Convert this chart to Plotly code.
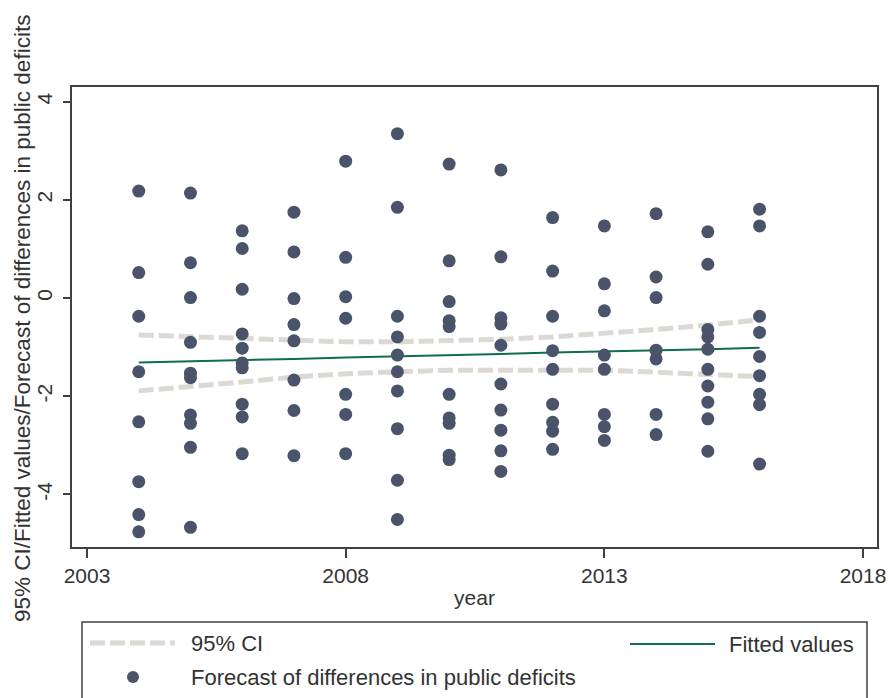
import plotly.graph_objects as go

# ---------------- data ----------------
years = [2004, 2005, 2006, 2007, 2008, 2009, 2010, 2011, 2012, 2013, 2014, 2015, 2016]

f2004 = [2.18, 0.52, -0.37, -1.50, -2.52, -3.74, -4.41, -4.76]
f2005 = [2.14, 0.72, 0.01, -0.90, -1.53, -1.62, -2.38, -2.55, -3.04, -4.67]
f2006 = [1.37, 1.01, 0.18, -0.73, -1.02, -1.32, -1.42, -2.16, -2.42, -3.17]
f2007 = [1.75, 0.94, -0.01, -0.54, -0.87, -1.67, -2.29, -3.21]
f2008 = [2.79, 0.83, 0.03, -0.41, -1.96, -2.37, -3.17]
f2009 = [3.35, 1.85, -0.37, -0.79, -1.16, -1.50, -1.89, -2.66, -3.71, -4.51]
f2010 = [2.73, 0.76, -0.07, -0.46, -0.58, -1.96, -2.44, -2.55, -3.20, -3.29]
f2011 = [2.61, 0.84, -0.40, -0.53, -0.96, -1.75, -2.28, -2.69, -3.11, -3.53]
f2012 = [1.64, 0.55, -0.37, -1.07, -1.45, -2.16, -2.53, -2.71, -3.08]
f2013 = [1.47, 0.29, -0.26, -1.16, -1.45, -2.37, -2.62, -2.90]
f2014 = [1.72, 0.43, 0.01, -1.06, -1.24, -2.37, -2.78]
f2015 = [1.35, 0.69, -0.64, -0.79, -1.04, -1.45, -1.79, -2.12, -2.46, -3.12]
f2016 = [1.81, 1.47, -0.37, -0.70, -1.19, -1.58, -1.96, -2.17, -3.38]

forecast_by_year = [f2004, f2005, f2006, f2007, f2008, f2009, f2010,
                    f2011, f2012, f2013, f2014, f2015, f2016]

fitted_values = [-1.31, -1.29, -1.26, -1.24, -1.21, -1.19, -1.16,
                 -1.14, -1.11, -1.09, -1.06, -1.04, -1.01]
ci_upper = [-0.75, -0.79, -0.82, -0.86, -0.89, -0.89, -0.87,
            -0.84, -0.79, -0.72, -0.64, -0.55, -0.44]
ci_lower = [-1.89, -1.81, -1.71, -1.61, -1.54, -1.50, -1.47,
            -1.47, -1.47, -1.47, -1.51, -1.55, -1.60]

x_ticks = [2003, 2008, 2013, 2018]
y_ticks = [-4, -2, 0, 2, 4]

# ---------------- styles ----------------
FONT = "Liberation Sans, Arial, sans-serif"
TXT = "#333333"
DOT = "#49546a"
GREEN = "#0f6e4d"
CIG = "#dcd8d4"
FRAME = "#404040"

W, H = 889, 698
L, R, T, B = 72, 12, 87, 151
PW, PH = W - L - R, H - T - B

def px(x):
    return (x - L) / PW

def py(y):
    return (H - B - y) / PH

xs, ys = [], []
for yr, vals in zip(years, forecast_by_year):
    xs += [yr] * len(vals)
    ys += vals

fig = go.Figure()
fig.add_trace(go.Scatter(x=years, y=ci_upper, mode="lines", name="95% CI",
                         line=dict(color=CIG, width=5, dash="15px,5px"),
                         showlegend=False))
fig.add_trace(go.Scatter(x=years, y=ci_lower, mode="lines", name="95% CI",
                         line=dict(color=CIG, width=5, dash="15px,5px"),
                         showlegend=False))
fig.add_trace(go.Scatter(x=years, y=fitted_values, mode="lines", name="Fitted values",
                         line=dict(color=GREEN, width=2), showlegend=False))
fig.add_trace(go.Scatter(x=xs, y=ys, mode="markers",
                         name="Forecast of differences in public deficits",
                         marker=dict(color=DOT, size=13, line=dict(width=0)),
                         showlegend=False))

# ---------------- manual legend (Stata-style box) ----------------
shapes = [
    dict(type="rect", xref="paper", yref="paper",
         x0=px(82), x1=px(867), y0=py(710), y1=py(622),
         line=dict(color=FRAME, width=1.5), fillcolor="white", layer="below"),
    dict(type="line", xref="paper", yref="paper",
         x0=px(90), x1=px(175), y0=py(643), y1=py(643),
         line=dict(color=CIG, width=5, dash="15px,5px")),
    dict(type="line", xref="paper", yref="paper",
         x0=px(630), x1=px(715), y0=py(644), y1=py(644),
         line=dict(color=GREEN, width=2)),
    dict(type="circle", xref="paper", yref="paper",
         x0=px(127), x1=px(139), y0=py(683), y1=py(671),
         fillcolor=DOT, line=dict(width=0)),
]
annotations = [
    dict(text="95% CI", xref="paper", yref="paper", x=px(189), y=py(643),
         xanchor="left", yanchor="middle", showarrow=False,
         font=dict(family=FONT, size=22, color=TXT)),
    dict(text="Fitted values", xref="paper", yref="paper", x=px(727), y=py(644),
         xanchor="left", yanchor="middle", showarrow=False,
         font=dict(family=FONT, size=22, color=TXT)),
    dict(text="Forecast of differences in public deficits", xref="paper", yref="paper",
         x=px(189), y=py(677), xanchor="left", yanchor="middle", showarrow=False,
         font=dict(family=FONT, size=22, color=TXT)),
    # y-axis title
    dict(text="95% CI/Fitted values/Forecast of differences in public deficits",
         xref="paper", yref="paper", x=px(22), y=py(319), textangle=-90,
         xanchor="center", yanchor="middle", showarrow=False,
         font=dict(family=FONT, size=22.5, color=TXT)),
]

fig.update_layout(
    width=W, height=H,
    margin=dict(l=L, r=R, t=T, b=B, autoexpand=False),
    paper_bgcolor="white", plot_bgcolor="white",
    font=dict(family=FONT, color=TXT, size=20),
    showlegend=False,
    shapes=shapes, annotations=annotations,
)
fig.update_xaxes(range=[2002.71, 2018.27], tickvals=x_ticks,
                 ticktext=[str(v) for v in x_ticks],
                 showgrid=False, zeroline=False,
                 showline=True, linecolor=FRAME, linewidth=2, mirror=True,
                 ticks="outside", ticklen=9, tickwidth=2, tickcolor=FRAME,
                 tickfont=dict(size=21, color=TXT),
                 title=dict(text="year", font=dict(size=21, color=TXT), standoff=4))
fig.update_yaxes(range=[-5.07, 4.30], tickvals=y_ticks,
                 ticktext=[str(v) for v in y_ticks],
                 showgrid=False, zeroline=False,
                 showline=True, linecolor=FRAME, linewidth=2, mirror=True,
                 ticks="outside", ticklen=7, tickwidth=2, tickcolor=FRAME,
                 tickangle=-90, tickfont=dict(size=21, color=TXT),
                 ticklabelstandoff=3)

fig.write_html("out.html", config={"displayModeBar": False},
               post_script="document.body.style.margin='0';document.body.style.padding='0';")
